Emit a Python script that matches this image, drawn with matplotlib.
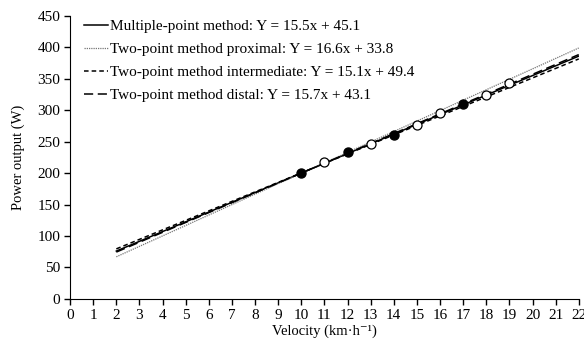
import matplotlib
matplotlib.use("Agg")
import matplotlib.pyplot as plt
import numpy as np

plt.rcParams['font.family'] = ['Liberation Serif', 'DejaVu Serif']

# Measured data points
vel_filled = [10, 12, 14, 17]
pow_filled = [201, 233, 261, 310]
vel_open = [11, 13, 15, 16, 18, 19]
pow_open = [217, 247, 277, 295, 324, 343]

# Regression lines (from legend equations)
labels = ["Multiple-point method: Y = 15.5x + 45.1",
          "Two-point method proximal: Y = 16.6x + 33.8",
          "Two-point method intermediate: Y = 15.1x + 49.4",
          "Two-point method distal: Y = 15.7x + 43.1"]
slopes = [15.5, 16.6, 15.1, 15.7]
intercepts = [45.1, 33.8, 49.4, 43.1]
x_range = [2, 22]

x_ticks = list(range(0, 23))
y_ticks = list(range(0, 451, 50))

fig = plt.figure(figsize=(5.84, 3.46), dpi=100)
ax = fig.add_axes([0.12, 0.136, 0.871, 0.818])

styles = [dict(color='black', lw=1.1, ls='-'),
          dict(color='#777777', lw=0.9, ls=(0, (1, 0.8))),
          dict(color='black', lw=1.1, ls=(0, (3, 2))),
          dict(color='black', lw=1.1, ls=(0, (6, 3)))]
xs = np.array(x_range, dtype=float)
for lab, m, b, st in zip(labels, slopes, intercepts, styles):
    ax.plot(xs, m * xs + b, label=lab, **st)

ax.plot(vel_filled, pow_filled, 'o', color='black', ms=6.5, zorder=5)
ax.plot(vel_open, pow_open, 'o', mfc='white', mec='black', mew=0.9, ms=6.5, zorder=5)

ax.set_xlim(0, 22)
ax.set_ylim(0, 450)
ax.set_xticks(x_ticks)
ax.set_yticks(y_ticks)
ax.spines['top'].set_visible(False)
ax.spines['right'].set_visible(False)
ax.tick_params(direction='out', length=4, width=1, labelsize=11, pad=3)
ax.set_xlabel("Velocity (km·h⁻¹)", fontsize=10.5, labelpad=2)
ax.set_ylabel("Power output (W)", fontsize=10.5, labelpad=9)

leg = ax.legend(loc='upper left', bbox_to_anchor=(0.015, 1.01), frameon=False,
                fontsize=11, handlelength=1.6, handletextpad=0.1,
                labelspacing=0.62, borderaxespad=0)

fig.savefig("out.png", dpi=100)
